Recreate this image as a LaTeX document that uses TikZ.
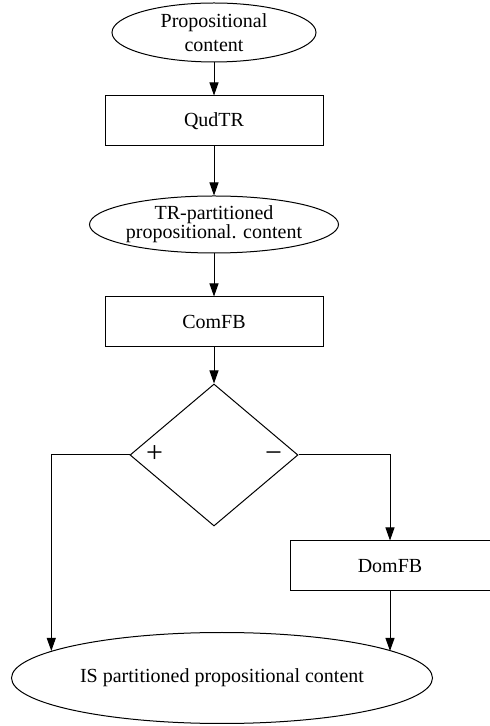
\documentclass[tikz,border=0pt]{standalone}
\usepackage{fontspec}
\setmainfont{Liberation Serif}
\usetikzlibrary{shapes.geometric, arrows.meta}
\tikzset{>={Triangle[length=13pt,width=9pt]}}
\tikzset{
  blob/.style = {draw, ellipse, inner sep=0pt, align=center, font=\fontsize{20}{24}\selectfont},
  stepbox/.style = {draw, rectangle, minimum width=218pt, minimum height=50pt, font=\fontsize{20}{24}\selectfont},
  choice/.style = {draw, diamond, minimum width=168pt, minimum height=142pt, inner sep=0pt},
  sign/.style = {inner sep=0pt, text height=15pt, text depth=0pt, font=\fontsize{30}{32}\selectfont},
  flow/.style = {->}
}

\begin{document}
\begin{tikzpicture}[x=1pt, y=1pt, line width=1pt]
\useasboundingbox (0,0) rectangle (490,726);

\node[blob, minimum width=204pt, minimum height=59pt] (prop) at (214, 693.5) {Propositional\\content};
\node[stepbox] (qud) at (214, 605) {QudTR};
\node[blob, minimum width=200pt, minimum height=57pt, font=\fontsize{20}{17}\selectfont] (trp) at (214, 501.5) {TR-partitioned\\propositional. content};
\node[stepbox] (comfb) at (214, 404) {ComFB};
\node[choice] (dec) at (214, 271) {};
\node[sign] (plus) at ([xshift=25pt]dec.west) {+};
\node[sign] (minus) at ([xshift=-25pt]dec.east) {−};
\node[stepbox, minimum width=200pt] (domfb) at (390, 160) {DomFB};
\node[blob, minimum width=421pt, minimum height=91pt] (is) at (222, 48) {IS partitioned propositional content};

\draw[flow] (prop) -- (qud);
\draw[flow] (qud) -- (trp);
\draw[flow] (trp) -- (comfb);
\draw[flow] (comfb) -- (dec);
\draw[flow] (dec.west) -| (is.171.9);
\draw[flow] (dec.east) -| (domfb);
\draw[flow] (domfb.south) -- (domfb.south |- is.9.4);

\end{tikzpicture}
\end{document}
